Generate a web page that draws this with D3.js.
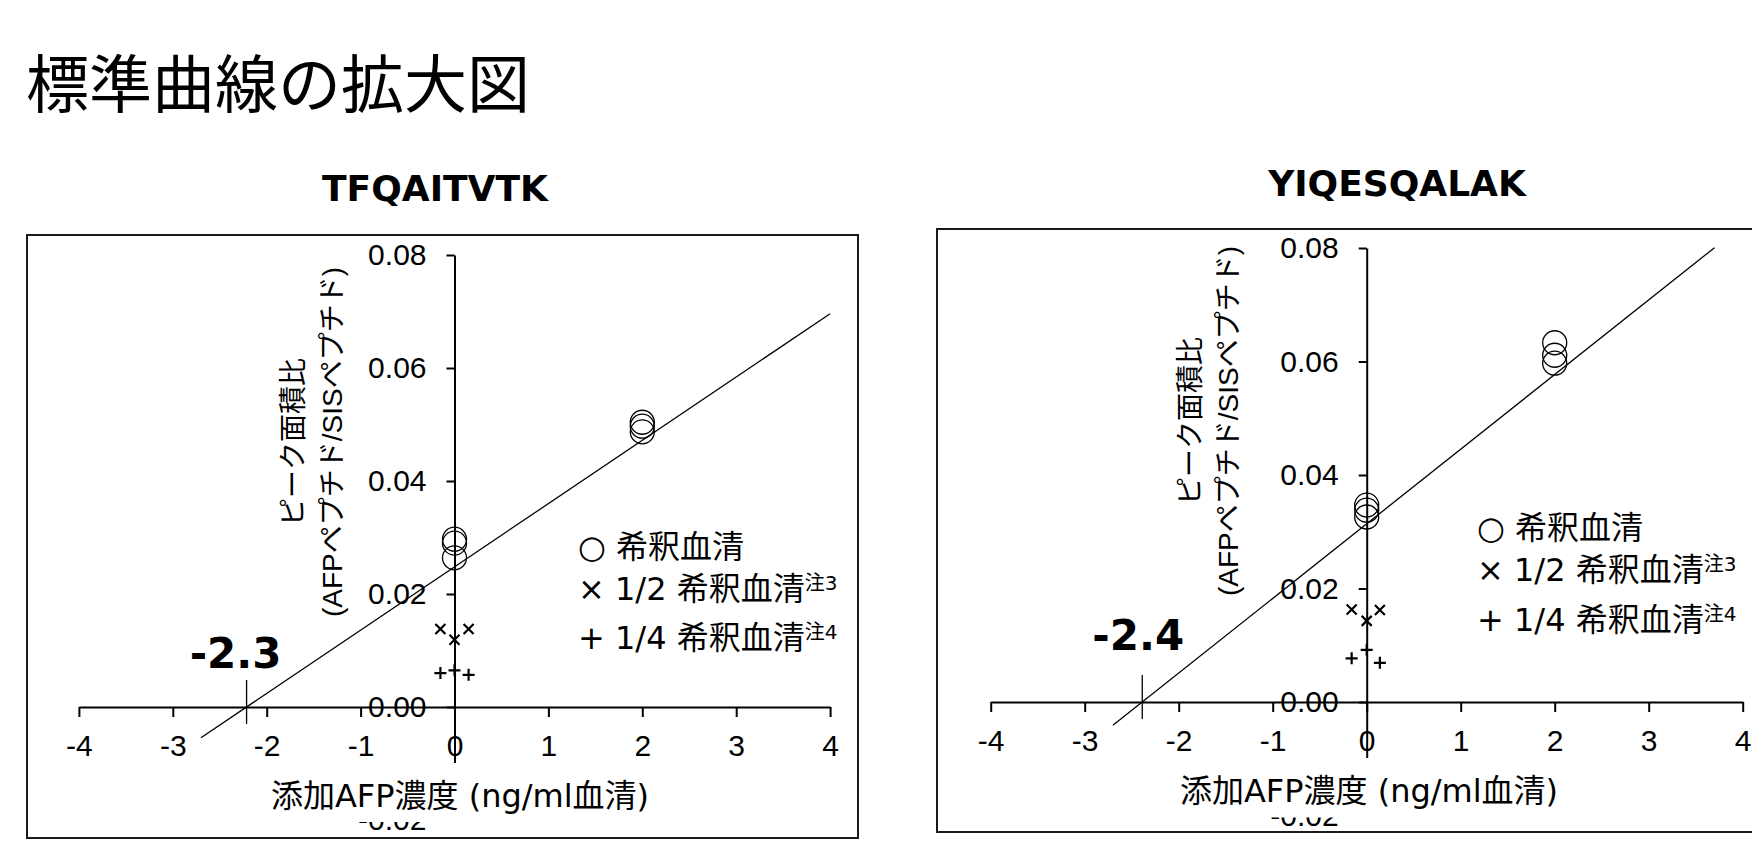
<!DOCTYPE html>
<html>
<head>
<meta charset="utf-8">
<script src="https://cdn.jsdelivr.net/npm/d3@7"></script>
<style>
  body { margin: 0; background: #fff; }
  svg { display: block; }
</style>
</head>
<body>
<script>
// ---- data ----
var pageTitle = "標準曲線の拡大図";
var panelTitles = ["TFQAITVTK", "YIQESQALAK"];
var xTicks = [-4, -3, -2, -1, 0, 1, 2, 3, 4];
var yTicks = [-0.02, 0, 0.02, 0.04, 0.06, 0.08];
var xTitle = "添加AFP濃度 (ng/ml血清)";
var yTitleLines = ["ピーク面積比", "(AFPペプチド/SISペプチド)"];

// 希釈血清 (circles)
var dilutedX = [[0, 0, 0, 2, 2, 2], [0, 0, 0, 2, 2, 2]];
var dilutedY = [[0.0297, 0.0290, 0.0264, 0.0504, 0.0497, 0.0487],
                [0.0347, 0.0338, 0.0326, 0.0633, 0.0611, 0.0597]];
// 1/2 希釈血清 (x marks)
var halfX = [[-0.15, 0.15, 0], [-0.16, 0.14, 0]];
var halfY = [[0.0138, 0.0138, 0.0119], [0.0163, 0.0162, 0.0143]];
// 1/4 希釈血清 (plus marks)
var quarterX = [[-0.15, 0, 0.15], [-0.16, 0, 0.14]];
var quarterY = [[0.0060, 0.0065, 0.0057], [0.0077, 0.0092, 0.0069]];

// regression lines
var fitSlope = [0.0112, 0.01315];
var fitIntercept = [0.0248, 0.0314];
var fitFrom = [-2.7, -2.7];
var fitTo = [4.0, 3.7];
var interceptLabels = ["-2.3", "-2.4"];

var legendSymbols = ["○", "×", "+"];
var legendLabels = ["希釈血清", "1/2 希釈血清", "1/4 希釈血清"];
var legendNotes = ["", "注3", "注4"];

// ---- layout ----
var W = 1752, H = 857;
var panels = [
  { box: [27, 235, 858, 838], xRange: [78.9, 830.1], yRange: [820, 255],
    titleX: 435, titleY: 201, yTitleX: [293, 332], yTitleY: 442,
    xTitleX: 460, xTitleY: 796, legendX: 578, legendY: [547, 589, 638],
    labelDx: -11, labelY: 668 },
  { box: [937, 229, 1770, 832], xRange: [990.7, 1742.7], yRange: [815.5, 248],
    titleX: 1397, titleY: 196, yTitleX: [1190, 1228], yTitleY: 421,
    xTitleX: 1369, xTitleY: 791, legendX: 1477, legendY: [528, 570, 620],
    labelDx: -4, labelY: 650 }
];

var tickFont = "'Liberation Sans', Arial, sans-serif";
var jpFont = "'DejaVu Sans', 'Noto Sans CJK JP', sans-serif";

var svg = d3.select("body").append("svg")
    .attr("width", W)
    .attr("height", H);

svg.append("text")
    .attr("x", 26)
    .attr("y", 107)
    .attr("font-family", "'Noto Sans CJK JP', sans-serif")
    .attr("font-size", 63)
    .attr("fill", "#000")
    .text(pageTitle);

function drawPanel(i) {
    var p = panels[i];
    var x = d3.scaleLinear().domain([xTicks[0], xTicks[xTicks.length - 1]]).range(p.xRange),
        y = d3.scaleLinear().domain([yTicks[0], yTicks[yTicks.length - 1]]).range(p.yRange);

    var g = svg.append("g");

    //-> frame
    g.append("rect")
        .attr("x", p.box[0]).attr("y", p.box[1])
        .attr("width", p.box[2] - p.box[0]).attr("height", p.box[3] - p.box[1])
        .attr("fill", "none")
        .attr("stroke", "#1a1a1a")
        .attr("stroke-width", 2);

    //-> panel title
    g.append("text")
        .attr("x", p.titleX).attr("y", p.titleY)
        .attr("text-anchor", "middle")
        .attr("font-family", "'DejaVu Sans', Verdana, sans-serif")
        .attr("font-weight", "bold")
        .attr("font-size", 36)
        .text(panelTitles[i]);

    //-> axes crossing at zero
    var xAxis = g.append("g")
        .attr("transform", "translate(0," + y(0) + ")")
        .call(d3.axisBottom(x).tickValues(xTicks).tickSize(10).tickSizeOuter(0)
            .tickPadding(18).tickFormat(function(d) { return String(d); }));
    var yAxis = g.append("g")
        .attr("transform", "translate(" + x(0) + ",0)")
        .call(d3.axisLeft(y).tickValues(yTicks).tickSize(8).tickSizeOuter(0)
            .tickPadding(20).tickFormat(function(d) { return d.toFixed(2); }));
    [xAxis, yAxis].forEach(function(a) {
        a.attr("font-family", tickFont).attr("font-size", 30);
        a.selectAll("path, line").attr("stroke", "#000").attr("stroke-width", 2);
        a.selectAll("text").attr("fill", "#000");
    });

    //-> regression line
    var fit = [fitFrom[i], fitTo[i]].map(function(v) {
        return { x: v, y: fitSlope[i] * v + fitIntercept[i] };
    });
    g.append("path")
        .datum(fit)
        .attr("fill", "none")
        .attr("stroke", "#000")
        .attr("stroke-width", 1.3)
        .attr("d", d3.line().x(function(d) { return x(d.x); }).y(function(d) { return y(d.y); }));

    //-> x intercept marker and its value
    var xi = -fitIntercept[i] / fitSlope[i];
    g.append("line")
        .attr("x1", x(xi)).attr("x2", x(xi))
        .attr("y1", y(0) - 27).attr("y2", y(0) + 17)
        .attr("stroke", "#000")
        .attr("stroke-width", 1.3);
    g.append("text")
        .attr("x", x(xi) + p.labelDx).attr("y", p.labelY)
        .attr("text-anchor", "middle")
        .attr("font-family", "'DejaVu Sans', Verdana, sans-serif")
        .attr("font-weight", "bold")
        .attr("font-size", 42)
        .text(interceptLabels[i]);

    //-> points
    g.selectAll(".dil")
        .data(d3.zip(dilutedX[i], dilutedY[i]))
        .enter().append("circle")
        .attr("cx", function(d) { return x(d[0]); })
        .attr("cy", function(d) { return y(d[1]); })
        .attr("r", 12)
        .attr("fill", "none")
        .attr("stroke", "#000")
        .attr("stroke-width", 1.3);

    g.selectAll(".half")
        .data(d3.zip(halfX[i], halfY[i]))
        .enter().append("path")
        .attr("transform", function(d) { return "translate(" + x(d[0]) + "," + y(d[1]) + ")"; })
        .attr("d", "M-5,-5L5,5M-5,5L5,-5")
        .attr("stroke", "#000")
        .attr("stroke-width", 2.2);

    g.selectAll(".quarter")
        .data(d3.zip(quarterX[i], quarterY[i]))
        .enter().append("path")
        .attr("transform", function(d) { return "translate(" + x(d[0]) + "," + y(d[1]) + ")"; })
        .attr("d", "M-6,0L6,0M0,-6L0,6")
        .attr("stroke", "#000")
        .attr("stroke-width", 2.2);

    //-> legend
    legendLabels.forEach(function(lab, k) {
        var t = g.append("text")
            .attr("x", p.legendX).attr("y", p.legendY[k] + 11)
            .attr("font-family", jpFont)
            .attr("font-size", 32)
            .text(legendSymbols[k] + " " + lab);
        if (legendNotes[k]) {
            t.append("tspan")
                .attr("font-size", 20)
                .attr("dy", -10)
                .text(legendNotes[k]);
        }
    });

    //-> y title (rotated, two lines)
    yTitleLines.forEach(function(line, k) {
        g.append("text")
            .attr("transform", "translate(" + p.yTitleX[k] + "," + p.yTitleY + ")rotate(-90)")
            .attr("text-anchor", "middle")
            .attr("dominant-baseline", "central")
            .attr("font-family", "'Liberation Sans', 'Noto Sans CJK JP', sans-serif")
            .attr("font-size", 28)
            .text(line);
    });

    //-> x title on a white box that hides the bottom of the y axis
    var xt = g.append("text")
        .attr("x", p.xTitleX).attr("y", p.xTitleY)
        .attr("text-anchor", "middle")
        .attr("dominant-baseline", "central")
        .attr("font-family", jpFont)
        .attr("font-size", 32)
        .text(xTitle);
    var bb = xt.node().getBBox();
    var boxTop = p.xTitleY - 33, boxBottom = y(yTicks[0]) + 2;
    g.insert("rect", function() { return xt.node(); })
        .attr("x", bb.x - 8).attr("y", boxTop)
        .attr("width", bb.width + 16).attr("height", boxBottom - boxTop)
        .attr("fill", "#fff");
}

panels.forEach(function(p, i) { drawPanel(i); });
</script>
</body>
</html>
